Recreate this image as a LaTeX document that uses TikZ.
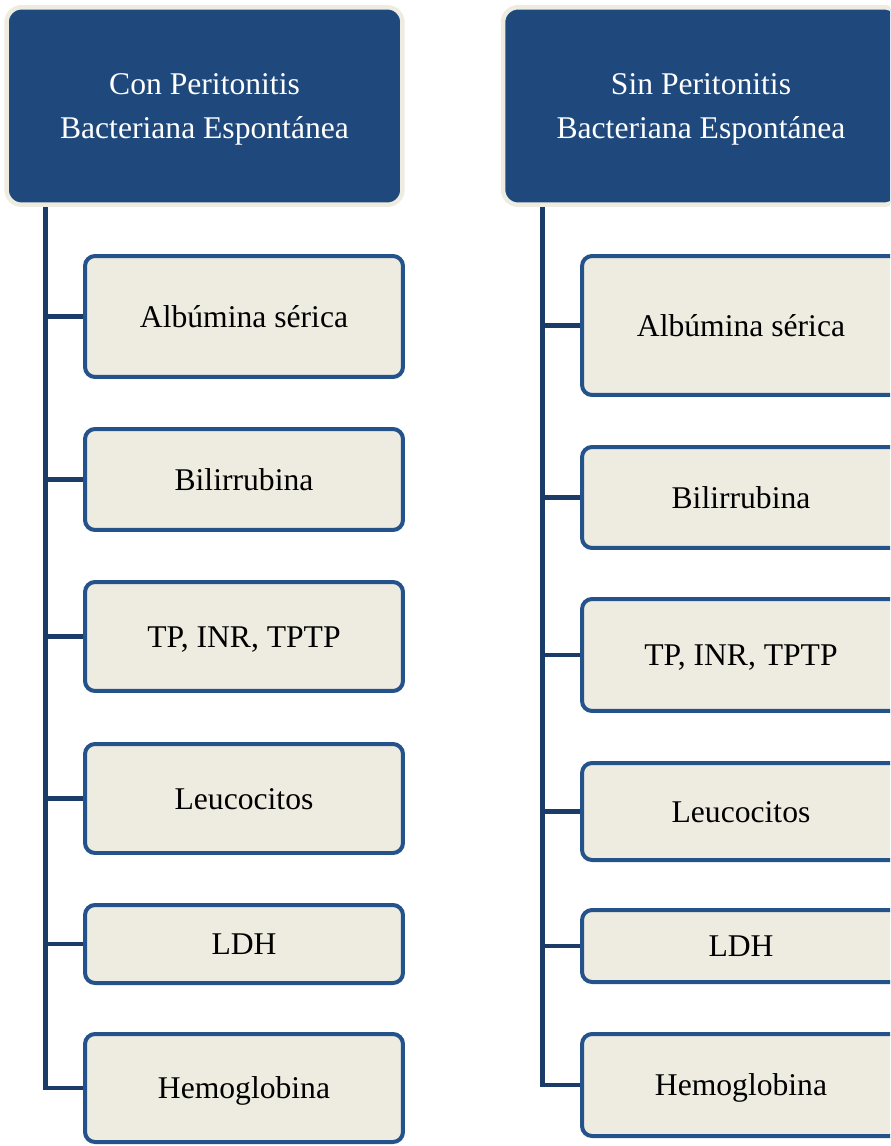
\documentclass[tikz,border=0pt]{standalone}
\usepackage{fontspec}
\setmainfont{Liberation Serif}
\usetikzlibrary{positioning}
\definecolor{headblue}{HTML}{1F497D}
\definecolor{cream}{HTML}{EEECE1}
\definecolor{boxline}{HTML}{24528A}
\definecolor{trunk}{HTML}{1B3B68}

\begin{document}
\begin{tikzpicture}[x=0.02cm,y=-0.02cm,
  head/.style={draw=cream,line width=0.09cm,fill=headblue,rounded corners=0.3cm,
    minimum width=7.92cm,minimum height=3.95cm,inner sep=0pt,align=center,
    text=white,font=\fontsize{18}{25.5}\selectfont,text depth=0pt},
  item/.style={draw=boxline,line width=0.08cm,fill=cream,rounded corners=0.2cm,
    minimum width=6.36cm,inner sep=0pt,text height=0.52cm,text depth=0.1cm,
    font=\fontsize{18}{21.6}\selectfont},
  link/.style={draw=trunk,line width=0.09cm}]
  \useasboundingbox (0,0) rectangle (890,1146);
  \clip (0,0) rectangle (890,1146);

  % Con PBE
  \node[head] (lhead) at (204.5,106) {Con Peritonitis\\Bacteriana Espontánea};
  \node[item,minimum height=2.42cm] (lalb) at (244,316.5) {Albúmina sérica};
  \node[item,minimum height=2.02cm] (lbil) at (244,479.5) {Bilirrubina};
  \node[item,minimum height=2.18cm] (ltp) at (244,636.5) {TP, INR, TPTP};
  \node[item,minimum height=2.18cm] (lleu) at (244,798.5) {Leucocitos};
  \node[item,minimum height=1.56cm] (lldh) at (244,944) {LDH};
  \node[item,minimum height=2.16cm] (lhgb) at (244,1088) {Hemoglobina};

  \coordinate (ltop) at (45.5,207);
  \draw[link] (ltop) |- (lhgb.west);
  \draw[link] (ltop |- lalb.west) -- (lalb.west);
  \draw[link] (ltop |- lbil.west) -- (lbil.west);
  \draw[link] (ltop |- ltp.west) -- (ltp.west);
  \draw[link] (ltop |- lleu.west) -- (lleu.west);
  \draw[link] (ltop |- lldh.west) -- (lldh.west);

  % Sin PBE
  \node[head] (rhead) at (701,106) {Sin Peritonitis\\Bacteriana Espontánea};
  \node[item,minimum height=2.78cm] (ralb) at (741,325.5) {Albúmina sérica};
  \node[item,minimum height=2.02cm] (rbil) at (741,497.5) {Bilirrubina};
  \node[item,minimum height=2.24cm] (rtp) at (741,655) {TP, INR, TPTP};
  \node[item,minimum height=1.94cm] (rleu) at (741,811.5) {Leucocitos};
  \node[item,minimum height=1.44cm] (rldh) at (741,946) {LDH};
  \node[item,minimum height=2.04cm] (rhgb) at (741,1085) {Hemoglobina};

  \coordinate (rtop) at (542.5,207);
  \draw[link] (rtop) |- (rhgb.west);
  \draw[link] (rtop |- ralb.west) -- (ralb.west);
  \draw[link] (rtop |- rbil.west) -- (rbil.west);
  \draw[link] (rtop |- rtp.west) -- (rtp.west);
  \draw[link] (rtop |- rleu.west) -- (rleu.west);
  \draw[link] (rtop |- rldh.west) -- (rldh.west);
\end{tikzpicture}
\end{document}
